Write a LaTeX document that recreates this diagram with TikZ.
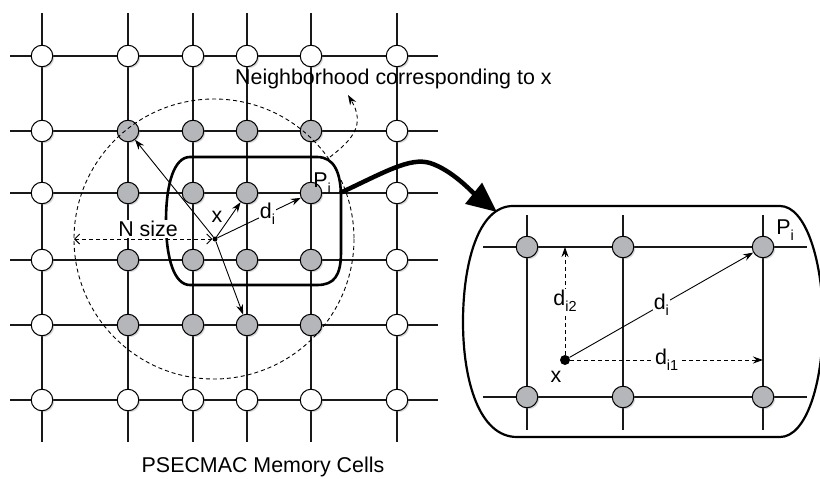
\documentclass[tikz,border=0pt]{standalone}
\usepackage{fontspec}
\setmainfont{Liberation Sans}
\usetikzlibrary{arrows.meta,shadows}
\definecolor{cellgray}{RGB}{180,182,186}
\newcommand{\lsub}[1]{\raisebox{-0.3em}{\fontsize{14.5}{14.5}\selectfont #1}}
\begin{document}
\begin{tikzpicture}[x=1pt,y=-1pt,
  grid/.style={line width=2.1pt,black!90},
  cell/.style={circle,draw,line width=1pt,minimum size=21.5pt,inner sep=0pt,
    drop shadow={shadow xshift=1.5pt,shadow yshift=-1.5pt,opacity=0.3}},
  cellw/.style={cell,fill=white},
  cellg/.style={cell,fill=cellgray},
  lbl/.style={font=\fontsize{21.4}{25}\selectfont,inner sep=1pt},
  wlbl/.style={lbl,fill=white},
  thinarr/.style={line width=0.9pt,-{Stealth[length=10pt,width=7pt]}},
  dashline/.style={line width=0.9pt,dash pattern=on 4pt off 3pt},
  dasharr/.style={thinarr,dashline},
  ]
\useasboundingbox (0,0) rectangle (820,479);
% ---- left grid ----
\foreach \x in {42,128,193,247,311,397} \draw[grid] (\x,13) -- (\x,442);
\foreach \y in {56,131,193,260,325,400} \draw[grid] (10,\y) -- (438,\y);
\foreach \x [count=\i] in {42,128,193,247,311,397}{
  \foreach \y [count=\j] in {56,131,193,260,325,400}{
    \pgfmathtruncatemacro{\g}{and(and(\i>1,\i<6),and(\j>1,\j<6))}
    \ifnum\g=1 \node[cellg] (c\i\j) at (\x,\y) {};
    \else \node[cellw] (c\i\j) at (\x,\y) {};
    \fi
  }
}
% neighbourhood circle
\draw[dashline] (214,239) circle[radius=140];
% selected cells box
\draw[line width=2.6pt] (190,157) -- (317,157) .. controls (334,157) and (341,172) .. (341,198)
  -- (341,252) .. controls (341,276) and (334,285) .. (317,285) -- (190,285)
  .. controls (174,285) and (166,258) .. (166,221) .. controls (166,184) and (174,157) .. (190,157) -- cycle;
% input point
\node[circle,fill,inner sep=0pt,minimum size=5pt] (xl) at (215,239) {};
\draw[thinarr] (xl) -- (c22);
\draw[thinarr] (xl) -- (c43);
\draw[thinarr] (xl) -- (c45);
\draw[thinarr] (xl) -- node[wlbl,pos=0.6]{d\lsub{i}} (c53);
\node[lbl] at (217,217) {x};
\coordinate (nl) at (74,239);
\draw[dashline,{Straight Barb[length=5pt,width=10pt]}-{Straight Barb[length=5pt,width=10pt]}] (nl) -- (xl);
\node[wlbl] (nsize) at (148,229) {N size};
\node[lbl] at (322,183) {P\lsub{i}};
% neighbourhood label
\node[lbl,anchor=west] (nb) at (234,79) {Neighborhood corresponding to x};
\coordinate (ns) at (330,157);
\draw[dashline,-{Stealth[length=10pt,width=7pt]}] (ns) .. controls (352,140) and (366,125) .. (348,95);
% big arrow
\coordinate (lbe) at (340,193);
\coordinate (rbnw) at (497,212);
\draw[line width=4.5pt,-{Triangle[length=30pt,width=26pt]}] (lbe) .. controls (385,172) and (410,157) .. (430,163) .. controls (452,170) and (472,192) .. (rbnw);
% ---- right box ----
\draw[line width=2.2pt] (513,206) -- (780,206) .. controls (806,206) and (823,262) .. (823,322)
  .. controls (823,384) and (806,437) .. (780,437) -- (517,437)
  .. controls (479,437) and (463,380) .. (463,322) .. controls (463,264) and (478,206) .. (513,206) -- cycle;
\foreach \x in {527,623,763} \draw[grid] (\x,215) -- (\x,430);
\foreach \y in {247,397} \draw[grid] (483,\y) -- (807,\y);
\node[cellg] (r1) at (527,247) {};
\node[cellg] (r2) at (623,247) {};
\node[cellg] (r3) at (763,247) {};
\node[cellg] (r4) at (527,397) {};
\node[cellg] (r5) at (623,397) {};
\node[cellg] (r6) at (763,397) {};
\node[circle,fill,inner sep=0pt,minimum size=10pt] (xr) at (565,360) {};
\coordinate (t2) at (565,247);
\coordinate (t1) at (763,360);
\draw[dasharr] (xr) -- node[wlbl]{d\lsub{i2}} (t2);
\draw[dasharr] (xr) -- node[wlbl]{d\lsub{i1}} (t1);
\draw[thinarr] (xr) -- node[wlbl,pos=0.5]{d\lsub{i}} (r3);
\node[lbl] at (556,377) {x};
\node[lbl] at (785,230) {P\lsub{i}};
% caption
\node[lbl] (cap) at (263,467) {PSECMAC Memory Cells};
\end{tikzpicture}
\end{document}
